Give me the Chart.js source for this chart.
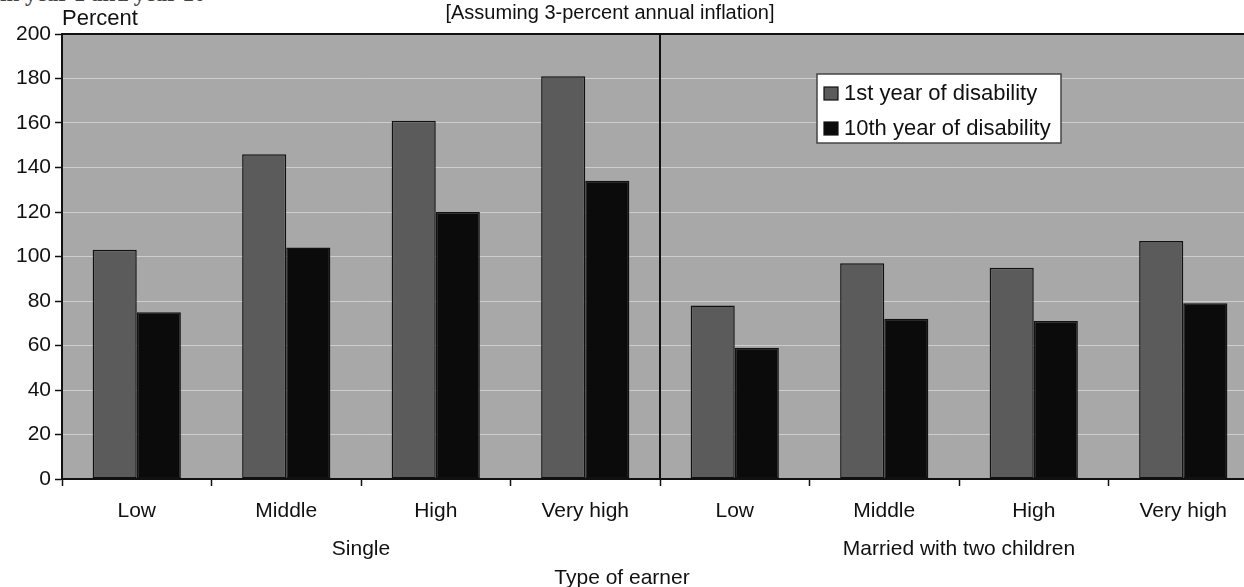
<!DOCTYPE html>
<html>
<head>
<meta charset="utf-8">
<script src="https://cdn.jsdelivr.net/npm/chart.js@4/dist/chart.umd.min.js"></script>
<style>
  html, body { margin: 0; padding: 0; background: #fff; overflow: hidden; width: 1244px; height: 587px; }
  #wrap { position: relative; width: 1244px; height: 587px; overflow: hidden; }
  #cut { position: absolute; left: 0; top: -19px; font: bold 23px "Liberation Serif", serif; color: #444; white-space: nowrap; }
  canvas { position: absolute; left: 0; top: 0; }
</style>
</head>
<body>
<div id="wrap">
  <div id="cut">in year 1 and year 10</div>
  <canvas id="chart" width="1258" height="587"></canvas>
</div>
<script>
/* ---- data ---- */
const earnerTypes = ["Low", "Middle", "High", "Very high", "Low", "Middle", "High", "Very high"];
const groupNames = ["Single", "Married with two children"];
const groupSize = 4;
const firstYear = [103, 146, 161, 181, 78, 97, 95, 107];
const tenthYear = [75, 104, 120, 134, 59, 72, 71, 79];
const seriesNames = ["1st year of disability", "10th year of disability"];
const yTicks = { min: 0, max: 200, step: 20 };

const FONT = '"Liberation Sans", Arial, sans-serif';
const colors = ["#5b5b5b", "#0b0b0b"];
const ink = "#111";

/* ---- extras drawn around the chart ---- */
const extras = {
  id: "extras",
  beforeDraw(chart) {
    const { ctx, chartArea: a } = chart;
    ctx.save();
    ctx.fillStyle = "#a8a8a8";
    ctx.fillRect(a.left, a.top, a.right - a.left, a.bottom - a.top);
    ctx.restore();
  },
  beforeDatasetsDraw(chart) {
    const { ctx, chartArea: a, scales: { x } } = chart;
    // top border + divider between the two groups
    ctx.save();
    ctx.strokeStyle = ink;
    ctx.lineWidth = 2;
    ctx.beginPath();
    ctx.moveTo(a.left, a.top); ctx.lineTo(a.right, a.top);
    const dx = (x.getPixelForValue(groupSize - 1) + x.getPixelForValue(groupSize)) / 2;
    ctx.moveTo(dx, a.top); ctx.lineTo(dx, a.bottom);
    ctx.stroke();
    ctx.restore();
  },
  afterDraw(chart) {
    const { ctx, chartArea: a, scales: { x } } = chart;
    ctx.save();
    ctx.fillStyle = ink;
    ctx.textBaseline = "alphabetic";

    // group labels under the category labels
    ctx.font = "21px " + FONT;
    ctx.textAlign = "center";
    groupNames.forEach((g, i) => {
      const x0 = x.getPixelForValue(i * groupSize);
      const x1 = x.getPixelForValue(i * groupSize + groupSize - 1);
      ctx.fillText(g, (x0 + x1) / 2, 555);
    });
    ctx.fillText("Type of earner", 622, 584);

    // axis unit + note
    ctx.font = "22px " + FONT;
    ctx.textAlign = "left";
    ctx.fillText("Percent", a.left, 25);
    ctx.font = "20px " + FONT;
    ctx.textAlign = "center";
    ctx.fillText("[Assuming 3-percent annual inflation]", 610, 19);

    // legend box
    const lx = 817, ly = 74, lw = 244, lh = 69;
    ctx.fillStyle = "#fff";
    ctx.fillRect(lx, ly, lw, lh);
    ctx.strokeStyle = "#444";
    ctx.lineWidth = 1.5;
    ctx.strokeRect(lx, ly, lw, lh);
    ctx.font = "22px " + FONT;
    ctx.textAlign = "left";
    chart.data.datasets.forEach((ds, i) => {
      const ry = ly + 13 + i * 35;
      ctx.fillStyle = ds.backgroundColor;
      ctx.fillRect(lx + 7, ry, 14, 13);
      ctx.strokeStyle = ink;
      ctx.lineWidth = 1.2;
      ctx.strokeRect(lx + 7, ry, 14, 13);
      ctx.fillStyle = ink;
      ctx.fillText(ds.label, lx + 27, ry + 13);
    });
    ctx.restore();
  }
};

new Chart(document.getElementById("chart"), {
  type: "bar",
  data: {
    labels: earnerTypes,
    datasets: [
      { label: seriesNames[0], data: firstYear, backgroundColor: colors[0], borderColor: ink, borderWidth: 1.5, borderSkipped: false },
      { label: seriesNames[1], data: tenthYear, backgroundColor: colors[1], borderColor: ink, borderWidth: 1.5, borderSkipped: false }
    ]
  },
  options: {
    responsive: false,
    animation: false,
    devicePixelRatio: 1,
    layout: { padding: { top: 34, left: 0, right: 0, bottom: 0 } },
    datasets: { bar: { categoryPercentage: 0.59, barPercentage: 1.0 } },
    plugins: { legend: { display: false }, tooltip: { enabled: false } },
    scales: {
      x: {
        afterFit(s) { s.height = 108; },
        grid: { offset: true, drawOnChartArea: false, color: ink, tickLength: 7, tickWidth: 1.5 },
        border: { display: true, color: ink, width: 2 },
        ticks: { font: { family: FONT, size: 21 }, color: ink, padding: 13, maxRotation: 0, autoSkip: false }
      },
      y: {
        min: yTicks.min,
        max: yTicks.max,
        afterFit(s) { s.width = 62; },
        grid: { color: "rgba(215,215,215,0.8)", lineWidth: 1, tickColor: ink, tickLength: 7, tickWidth: 1.5 },
        border: { display: true, color: ink, width: 2 },
        ticks: { stepSize: yTicks.step, font: { family: FONT, size: 21 }, color: ink, padding: 4 }
      }
    }
  },
  plugins: [extras]
});
</script>
</body>
</html>
